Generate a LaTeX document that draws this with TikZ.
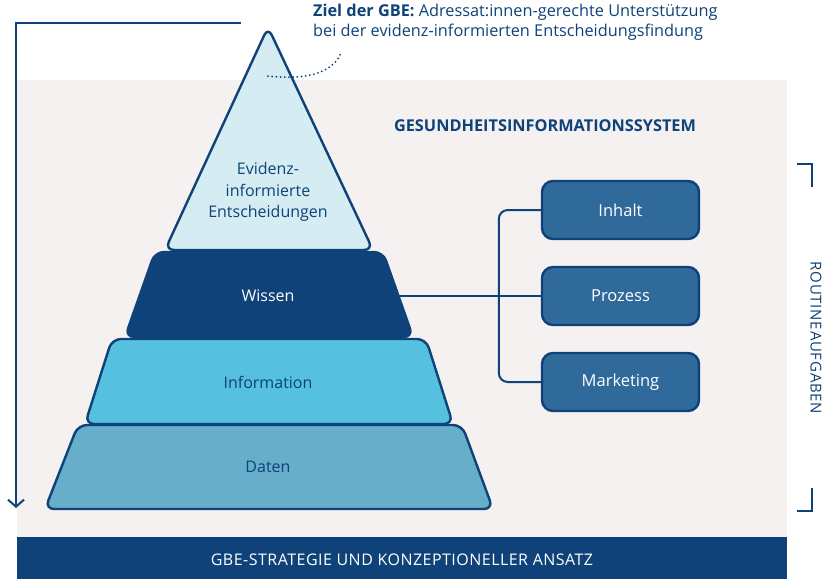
\documentclass[tikz,border=0pt]{standalone}
\usepackage{fontspec}
\setmainfont{Open Sans}
\usetikzlibrary{arrows.meta,calc}
\definecolor{dblue}{HTML}{0E4278}
\definecolor{bgray}{HTML}{F4F1F0}
\definecolor{toptier}{HTML}{D4ECF2}
\definecolor{infotier}{HTML}{55C1DE}
\definecolor{datentier}{HTML}{66AECA}
\definecolor{boxblue}{HTML}{306A9A}
\begin{document}
\begin{tikzpicture}[x=1pt,y=-1pt,
  tier/.style={draw=dblue,line width=2.4pt,rounded corners=9pt},
  tiertext/.style={font=\fontsize{16}{21.5}\selectfont,align=center},
  sidebox/.style={draw=dblue,line width=2.4pt,fill=boxblue,rounded corners=11pt,minimum width=157pt,minimum height=58pt,text=white,font=\fontsize{16.5}{20}\selectfont},
  link/.style={draw=dblue,line width=2pt},
  bracket/.style={draw=dblue,line width=2.5pt}]
\useasboundingbox (0,0) rectangle (828,579);
\fill[bgray] (17,80) rectangle (787,537);
\fill[dblue] (17,537) rectangle (787,579);
\node[text=white,font=\fontsize{16}{19}\selectfont\addfontfeature{LetterSpace=3}] (strat) at (402,560) {GBE-STRATEGIE UND KONZEPTIONELLER ANSATZ};
% pyramid
\draw[tier,fill=datentier] (78,425) -- (462,425) -- (493,509) -- (45,509) -- cycle;
\draw[tier,fill=infotier] (112,339) -- (426,339) -- (453,424) -- (85,424) -- cycle;
\draw[tier,fill=dblue] (155,252) -- (383,252) -- (413,337) -- (125,337) -- cycle;
\draw[tier,fill=toptier] (268,27) -- (373,250) -- (165,250) -- cycle;
\node[tiertext,text=dblue] (evid) at (268,192) {Evidenz-\\informierte\\Entscheidungen};
\node[tiertext,text=white] (wissen) at (268,296) {Wissen};
\node[tiertext,text=dblue] (info) at (268,382) {Information};
\node[tiertext,text=dblue] (daten) at (268,467) {Daten};
\coordinate (wissenR) at (399,296);
% header
\node[text=dblue,font=\fontsize{16.3}{18}\selectfont\bfseries] (gis) at (545,126) {GESUNDHEITSINFORMATIONSSYSTEM};
% side boxes
\node[sidebox] (inhalt) at (620.5,210) {Inhalt};
\node[sidebox] (prozess) at (620.5,296) {Prozess};
\node[sidebox] (marketing) at (620.5,382) {Marketing};
\draw[link] (wissenR) -- (prozess.west);
\draw[link,rounded corners=9pt] (inhalt.west) -| ($(prozess.west)+(-42,0)$) |- (marketing.west);
% left arrow
\draw[dblue,line width=2.2pt,-{Straight Barb[length=7pt,width=16pt,line width=2pt]}] (241,23) -| (16,508);
% right bracket
\draw[bracket] (797,164) -| (812,187);
\draw[bracket] (812,488) |- (797,511);
\node[rotate=-90,text=dblue,font=\fontsize{15}{17}\selectfont\addfontfeature{LetterSpace=5}] (routine) at (816,338) {ROUTINEAUFGABEN};
% goal text
\node[anchor=north west,text=dblue,align=left,font=\fontsize{16.3}{19.5}\selectfont,inner sep=0pt] (ziel) at (313,4) {\textbf{Ziel der GBE:} Adressat:innen-gerechte Unterstützung\\bei der evidenz-informierten Entscheidungsfindung};
\coordinate (dotA) at (268,76);
\draw[dblue,line width=2pt,line cap=round,dash pattern=on 0pt off 4.2pt] (dotA) .. controls (312,81) and (334,70) .. (341,53);
\end{tikzpicture}
\end{document}
